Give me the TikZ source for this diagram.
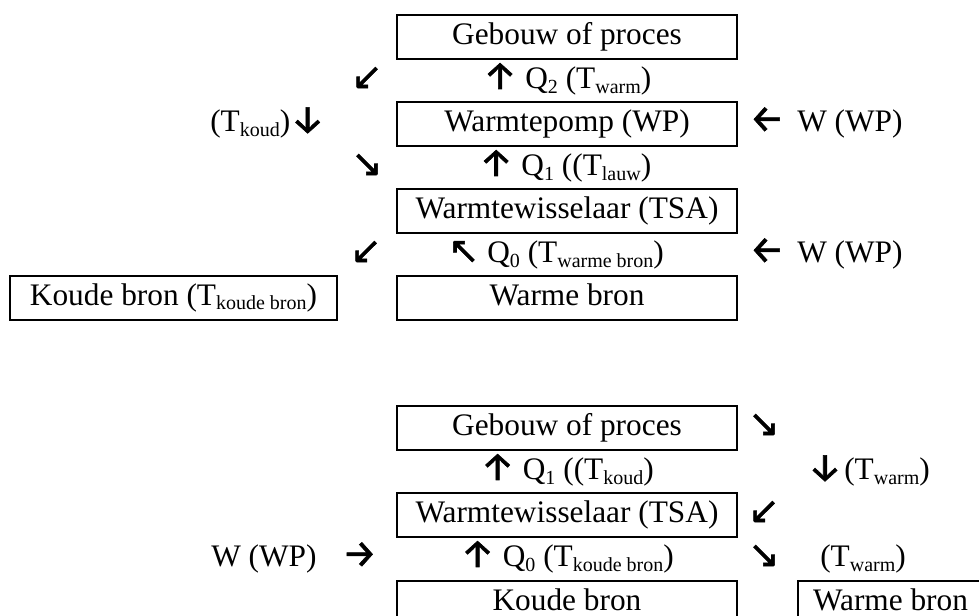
\documentclass[tikz,border=0pt]{standalone}
\usepackage{fontspec}
\setmainfont{Liberation Serif}
\newfontfamily\arrowfont{Fira Sans}[FakeBold=1.5]
\newfontfamily\diagfont{DejaVu Sans}[FakeBold=1.5]
% lowered, smaller index text
\newcommand\lowtext[1]{\raisebox{-0.13em}{\fontsize{15}{15}\selectfont #1}}
% straight arrow glyphs
\newcommand\arr[1]{{\arrowfont\fontsize{29}{29}\selectfont #1}}
% diagonal arrow glyphs
\newcommand\darr[1]{{\diagfont\fontsize{28}{28}\selectfont #1}}

\begin{document}
\begin{tikzpicture}[x=0.75pt,y=-0.75pt,
  every node/.style={inner sep=0pt, font=\fontsize{23.5}{28}\selectfont},
  box/.style={draw, line width=1.6pt, minimum height=33pt,
              text height=16.5pt, text depth=5pt},
  wide/.style={box, minimum width=255pt},
  lbl/.style={anchor=base},
  lblw/.style={anchor=base west}]
\useasboundingbox (0,0) rectangle (979,616);

% ---- upper scheme: heat pump chain ----
\node[wide] (gebouw1) at (567,37)  {Gebouw of proces};
\node[wide] (wp1)     at (567,124) {Warmtepomp (WP)};
\node[wide] (tsa1)    at (567,211) {Warmtewisselaar (TSA)};
\node[wide] (warm1)   at (567,298) {Warme bron};
\node[box, minimum width=245.25pt] (koud1) at (173.5,298)
  {Koude bron (T\lowtext{koude bron})};

\node[lbl] (q2)  at (567,89)  {\arr{↑} Q\lowtext{2} (T\lowtext{warm})};
\node[lbl] (q1)  at (565,176) {\arr{↑} Q\lowtext{1} ((T\lowtext{lauw})};
\node[lbl] (q0)  at (556,263) {\darr{↖} Q\lowtext{0} (T\lowtext{warme bron})};

\node[lbl] (dl1) at (367,89)  {\darr{↙}};
\node[lbl] (dr1) at (367,176) {\darr{↘}};
\node[lbl] (dl2) at (366,263) {\darr{↙}};
\node[lblw] (tk) at (210,132) {(T\lowtext{koud})\arr{↓}};

\node[lbl]  (la1) at (767,132) {\arr{←}};
\node[lblw] (w1)  at (797,132) {W (WP)};
\node[lbl]  (la2) at (767,263) {\arr{←}};
\node[lblw] (w2)  at (797,263) {W (WP)};

% ---- lower scheme: direct heat exchange ----
\node[wide] (gebouw2) at (567,428) {Gebouw of proces};
\node[wide] (tsa2)    at (567,515) {Warmtewisselaar (TSA)};
\node[wide] (koud2)   at (567,603) {Koude bron};
\node[box, minimum width=138.75pt] (warm2) at (890.5,603) {Warme bron};

\node[lbl] (q1b) at (567,480) {\arr{↑} Q\lowtext{1} ((T\lowtext{koud})};
\node[lbl] (q0b) at (567,567) {\arr{↑} Q\lowtext{0} (T\lowtext{koude bron})};

\node[lbl]  (dr2) at (764,436) {\darr{↘}};
\node[lbl]  (dn)  at (825,480) {\arr{↓}};
\node[lblw] (tw1) at (840,480) {\hspace{3pt}(T\lowtext{warm})};
\node[lbl]  (dl3) at (764,523) {\darr{↙}};
\node[lbl]  (dr3) at (764,567) {\darr{↘}};
\node[lblw] (tw2) at (820,567) {(T\lowtext{warm})};

\node[lblw] (w3) at (211,567)   {W (WP)};
\node[lbl]  (ra) at (359.5,567) {\arr{→}};
\end{tikzpicture}
\end{document}
